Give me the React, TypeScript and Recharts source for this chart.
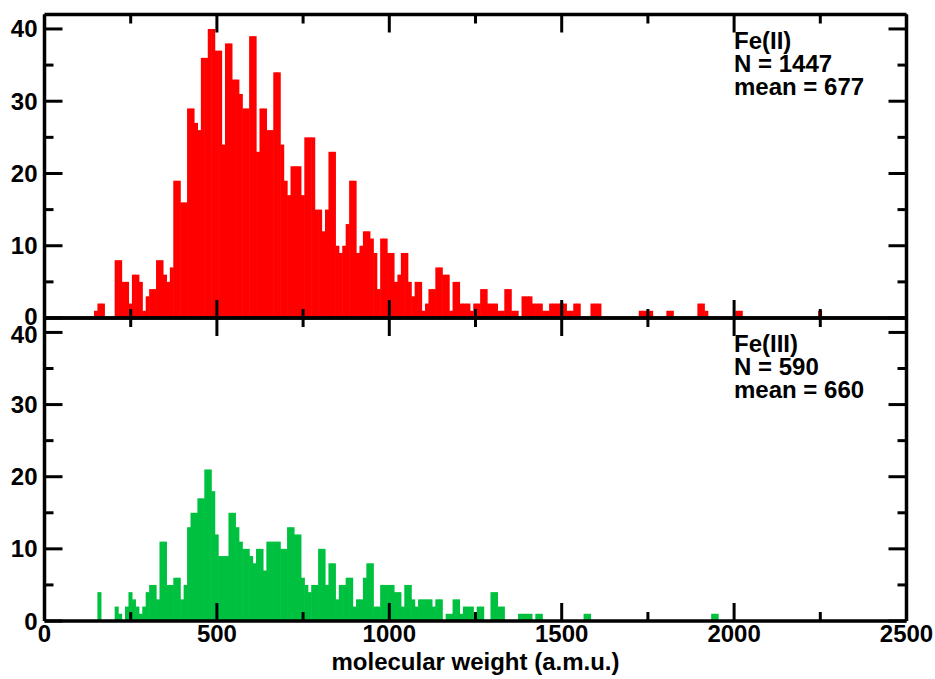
import React from "react";
import { BarChart, Bar, XAxis, YAxis } from "recharts";

// histogram bins: centre of first bin and bin width (a.m.u.)
const BIN_START = 150;
const BIN_WIDTH = 10;

// Fe(II) counts per bin, rows of 10 bins (150-240, 250-340, ...)
const fe2Counts = [
  1, 2, 2, 0, 0, 0, 8, 8, 5, 5,
  2, 6, 6, 5, 1, 3, 4, 4, 8, 8,
  6, 5, 7, 19, 19, 16, 16, 29, 29, 27,
  26, 36, 36, 40, 40, 37, 37, 24, 38, 38,
  33, 33, 31, 29, 29, 39, 39, 23, 29, 29,
  26, 26, 34, 34, 24, 19, 17, 21, 21, 21,
  17, 25, 25, 25, 15, 15, 12, 15, 23, 23,
  10, 9, 10, 13, 19, 19, 9, 10, 12, 12,
  11, 9, 4, 11, 11, 9, 9, 5, 6, 9,
  9, 5, 3, 5, 5, 1, 2, 4, 4, 7,
  7, 6, 6, 1, 5, 5, 2, 2, 2, 1,
  2, 2, 4, 4, 2, 2, 2, 1, 1, 4,
  4, 1, 1, 0, 3, 3, 3, 2, 2, 2,
  1, 1, 2, 2, 2, 2, 2, 1, 1, 2,
  2, 0, 0, 0, 2, 2, 2, 0, 0, 0,
  0, 0, 0, 0, 0, 0, 0, 0, 1, 1,
  1, 1, 0, 0, 0, 0, 1, 1, 0, 0,
  0, 0, 0, 0, 0, 2, 2, 1, 0, 0,
  0, 0, 0, 0, 0, 0, 1, 1, 0, 0,
  0, 0, 0, 0, 0, 0, 0, 0, 0, 0,
  0, 0, 0, 0, 0, 0, 0, 0, 0, 0,
  1,
];

// Fe(III) counts per bin, same layout
const fe3Counts = [
  0, 4, 0, 0, 0, 0, 2, 1, 0, 2,
  4, 3, 2, 1, 2, 4, 5, 5, 3, 11,
  11, 5, 5, 6, 6, 3, 5, 13, 15, 15,
  17, 17, 21, 21, 18, 12, 9, 9, 9, 15,
  15, 13, 11, 10, 10, 9, 8, 10, 10, 7,
  11, 11, 11, 11, 10, 10, 13, 13, 12, 12,
  6, 5, 4, 5, 5, 10, 10, 5, 8, 8,
  3, 5, 5, 6, 6, 2, 3, 3, 6, 8,
  8, 2, 2, 5, 5, 5, 5, 4, 4, 2,
  5, 5, 3, 2, 3, 3, 3, 3, 2, 3,
  3, 0, 1, 1, 3, 3, 1, 2, 2, 2,
  1, 2, 2, 0, 0, 4, 4, 2, 2, 0,
  0, 0, 0, 1, 1, 1, 1, 0, 1, 1,
  0, 0, 0, 0, 0, 0, 0, 0, 0, 0,
  0, 0, 1, 1, 0, 0, 0, 0, 0, 0,
  0, 0, 0, 0, 0, 0, 0, 0, 0, 0,
  0, 0, 0, 0, 0, 0, 0, 0, 0, 0,
  0, 0, 0, 0, 0, 0, 0, 0, 0, 1,
  1,
];

const xTicks = [0, 250, 500, 750, 1000, 1250, 1500, 1750, 2000, 2250, 2500];
const yTicks = [0, 5, 10, 15, 20, 25, 30, 35, 40];

const fe2Label = ["Fe(II)", "N = 1447", "mean = 677"];
const fe3Label = ["Fe(III)", "N = 590", "mean = 660"];

const W = 935;
const H = 679;
const LEFT = 44.5;
const RIGHT = 906.5;
const TOP = 14.5;
const MID = 318;
const BOTTOM = 621;
const FONT = "'Liberation Sans', Arial, Helvetica, sans-serif";
const FS = 24;
const LINE = 3.5;
const BIN_PX = ((RIGHT - LEFT) * BIN_WIDTH) / 2500;

const toBins = (counts: number[]) =>
  counts.map((n, i) => ({ mw: BIN_START + i * BIN_WIDTH, n }));

// histogram bar: centred where recharts puts it, one full bin wide (plus a
// hair of overlap so neighbours close up without seams)
function BinShape(props: any) {
  const { x, y, width, height, fill } = props;
  if (!height || height <= 0) return <g />;
  const cx = x + width / 2;
  const w = BIN_PX + 0.6;
  return <rect x={cx - w / 2} y={y} width={w} height={height} fill={fill} />;
}

function XTick(props: any) {
  const { x, y, payload, dir, labels } = props;
  const v = payload.value;
  const major = v % 500 === 0;
  const len = major ? 18 : 9;
  return (
    <g>
      <line x1={x} x2={x} y1={y} y2={y + dir * len} stroke="#000" strokeWidth={3} />
      {labels && major && (
        <text
          x={x}
          y={y + 21}
          textAnchor="middle"
          fontFamily={FONT}
          fontWeight="bold"
          fontSize={FS}
          fill="#000"
        >
          {v}
        </text>
      )}
    </g>
  );
}

function YTick(props: any) {
  const { x, y, payload, dir, labels, nudge } = props;
  const v = payload.value;
  const major = v % 10 === 0;
  const len = major ? 18 : 9;
  // the two panels meet at y = MID, so the end labels there are pulled apart a little
  let dy = 0;
  if (nudge === "top" && v === 0) dy = -2;
  if (nudge === "bottom" && v === 40) dy = 2;
  return (
    <g>
      <line x1={x} x2={x + dir * len} y1={y} y2={y} stroke="#000" strokeWidth={3} />
      {labels && major && (
        <text
          x={x - 7}
          y={y + 8.5 + dy}
          textAnchor="end"
          fontFamily={FONT}
          fontWeight="bold"
          fontSize={FS}
          fill="#000"
        >
          {v}
        </text>
      )}
    </g>
  );
}

function Panel({
  counts,
  color,
  top,
  bottom,
  xLabels,
  nudge,
}: {
  counts: number[];
  color: string;
  top: number;
  bottom: number;
  xLabels: boolean;
  nudge: string;
}) {
  const axisLine = { stroke: "#000", strokeWidth: LINE };
  return (
    <div style={{ position: "absolute", left: 0, top: 0 }}>
      <BarChart
        width={W}
        height={H}
        data={toBins(counts)}
        margin={{ top: top - 1, bottom: H - bottom - 1, left: 0, right: W - RIGHT - 1 }}
        barCategoryGap={0}
        barGap={0}
      >
        <Bar
          dataKey="n"
          xAxisId="b"
          yAxisId="l"
          fill={color}
          shape={BinShape}
          isAnimationActive={false}
        />
        <XAxis
          xAxisId="b"
          dataKey="mw"
          type="number"
          domain={[0, 2500]}
          allowDataOverflow
          ticks={xTicks}
          interval={0}
          height={1}
          tickSize={0}
          tickMargin={0}
          axisLine={axisLine}
          tick={(p: any) => <XTick {...p} dir={-1} labels={xLabels} />}
        />
        <XAxis
          xAxisId="t"
          orientation="top"
          dataKey="mw"
          type="number"
          domain={[0, 2500]}
          allowDataOverflow
          ticks={xTicks}
          interval={0}
          height={1}
          tickSize={0}
          tickMargin={0}
          axisLine={axisLine}
          tick={(p: any) => <XTick {...p} dir={1} labels={false} />}
        />
        <YAxis
          yAxisId="l"
          type="number"
          domain={[0, 42]}
          allowDataOverflow
          ticks={yTicks}
          interval={0}
          width={LEFT}
          tickSize={0}
          tickMargin={0}
          axisLine={axisLine}
          tick={(p: any) => <YTick {...p} dir={1} labels nudge={nudge} />}
        />
        <YAxis
          yAxisId="r"
          orientation="right"
          type="number"
          domain={[0, 42]}
          allowDataOverflow
          ticks={yTicks}
          interval={0}
          width={1}
          tickSize={0}
          tickMargin={0}
          axisLine={axisLine}
          tick={(p: any) => <YTick {...p} dir={-1} labels={false} />}
        />
      </BarChart>
    </div>
  );
}

function Note({ lines, top }: { lines: string[]; top: number }) {
  return (
    <div
      style={{
        position: "absolute",
        left: 734,
        top,
        fontFamily: FONT,
        fontWeight: "bold",
        fontSize: FS,
        lineHeight: "23px",
        color: "#000",
        whiteSpace: "nowrap",
      }}
    >
      {lines.map((l) => (
        <div key={l}>{l}</div>
      ))}
    </div>
  );
}

export default function App() {
  return (
    <div
      style={{
        position: "absolute",
        left: 0,
        top: 0,
        width: W,
        height: H,
        background: "#fff",
        overflow: "hidden",
      }}
    >
      <Panel counts={fe2Counts} color="#ff0000" top={TOP} bottom={MID} xLabels={false} nudge="top" />
      <Panel counts={fe3Counts} color="#00c040" top={MID} bottom={BOTTOM} xLabels nudge="bottom" />
      <Note lines={fe2Label} top={28.5} />
      <Note lines={fe3Label} top={331.5} />
      <div
        style={{
          position: "absolute",
          left: LEFT,
          width: RIGHT - LEFT,
          top: 650,
          textAlign: "center",
          fontFamily: FONT,
          fontWeight: "bold",
          fontSize: FS,
          lineHeight: "24px",
          color: "#000",
        }}
      >
        molecular weight (a.m.u.)
      </div>
    </div>
  );
}
